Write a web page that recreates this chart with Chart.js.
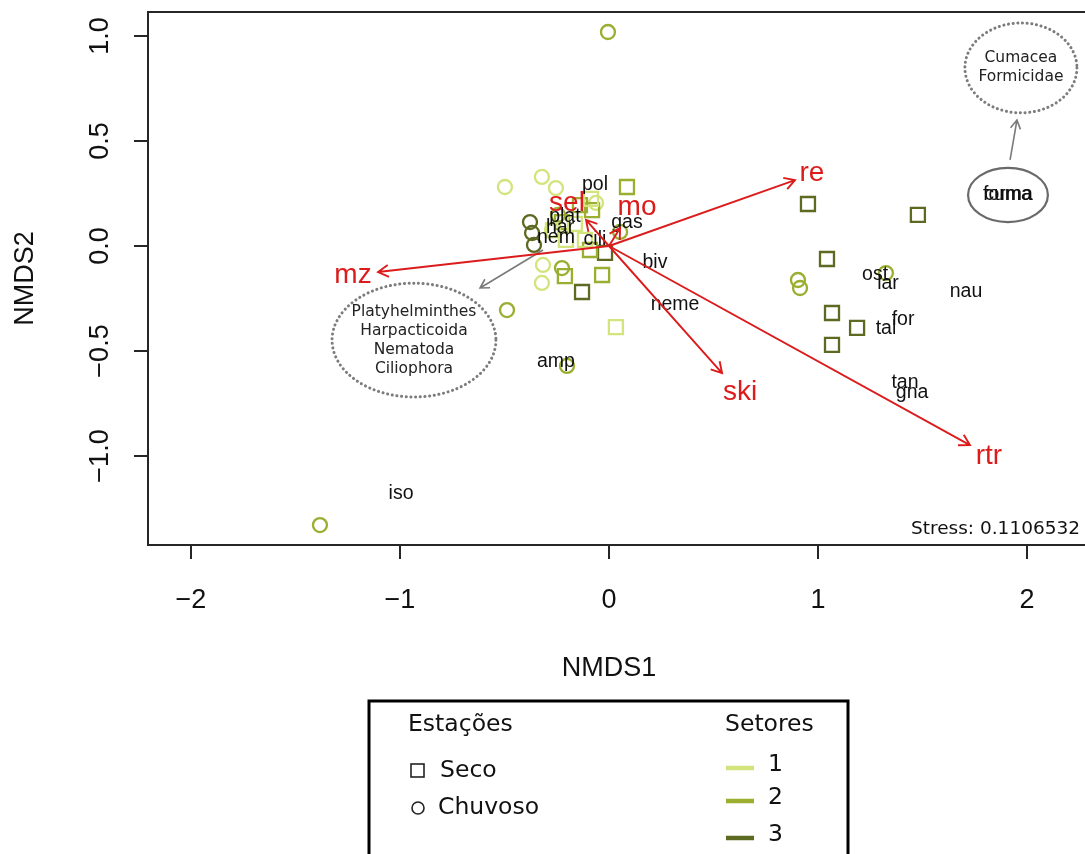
<!DOCTYPE html>
<html>
<head>
<meta charset="utf-8">
<script src="https://cdn.jsdelivr.net/npm/chart.js@4.4.1/dist/chart.umd.min.js"></script>
<style>
  html, body { margin: 0; padding: 0; background: #fff; overflow: hidden; }
  canvas { display: block; }
</style>
</head>
<body>
<canvas id="nmds" width="1085" height="854"></canvas>
<script>
// NMDS ordination of samples, taxa scores and environmental vectors

// Samples, dry season (squares)
const secoX     = [0.033, -0.086, -0.163, -0.206, -0.268, -0.115,
                   0.086, -0.081, -0.139, -0.091, -0.211, -0.033, -0.225,
                   -0.019, -0.129, 0.952, 1.478, 1.043, 1.067, 1.187, 1.067];
const secoY     = [-0.386, 0.224, 0.105, 0.029, 0.076, 0.029,
                   0.281, 0.171, 0.195, -0.019, -0.143, -0.138, 0.114,
                   -0.033, -0.219, 0.200, 0.148, -0.062, -0.319, -0.390, -0.471];
const secoSetor = [1, 1, 1, 1, 1, 1,
                   2, 2, 2, 2, 2, 2, 2,
                   3, 3, 3, 3, 3, 3, 3, 3];

// Samples, rainy season (circles)
const chuvosoX     = [-0.498, -0.321, -0.254, -0.316, -0.321, -0.273, -0.062,
                      -0.005, -0.225, -0.488, -0.201, -1.383, 0.904, 0.914, 1.325, 0.053, -0.244,
                      -0.378, -0.368, -0.359];
const chuvosoY     = [0.281, 0.329, 0.276, -0.090, -0.176, 0.076, 0.205,
                      1.019, -0.105, -0.305, -0.571, -1.329, -0.162, -0.200, -0.129, 0.067, 0.148,
                      0.114, 0.062, 0.005];
const chuvosoSetor = [1, 1, 1, 1, 1, 1, 1,
                      2, 2, 2, 2, 2, 2, 2, 2, 2, 2,
                      3, 3, 3];

// Taxa scores
const taxa  = ['pol', 'plat', 'har', 'nem', 'cili', 'gas', 'biv', 'neme', 'amp', 'iso',
               'ost', 'lar', 'nau', 'for', 'tal', 'tan', 'gna', 'forma', 'cuma'];
const taxaX = [-0.067, -0.211, -0.234, -0.254, -0.067, 0.086, 0.220, 0.316, -0.254, -0.995,
               1.273, 1.335, 1.708, 1.407, 1.325, 1.416, 1.450, 1.909, 1.909];
const taxaY = [0.290, 0.138, 0.086, 0.038, 0.029, 0.110, -0.081, -0.281, -0.552, -1.181,
               -0.138, -0.181, -0.219, -0.352, -0.395, -0.652, -0.700, 0.243, 0.243];

// Environmental vectors (arrow tips) and their label positions
const vetores = ['re', 'mz', 'ski', 'rtr', 'sel', 'mo'];
const vetorX  = [0.890, -1.105, 0.541, 1.727, -0.110, 0.053];
const vetorY  = [0.314, -0.124, -0.605, -0.948, 0.124, 0.086];
const rotuloX = [0.971, -1.225, 0.627, 1.818, -0.201, 0.134];
const rotuloY = [0.348, -0.138, -0.695, -1.000, 0.205, 0.186];

// Axis ticks
const xTicks      = [-2, -1, 0, 1, 2];
const xTickLabels = ['\u22122', '\u22121', '0', '1', '2'];
const yTicks      = [-1, -0.5, 0, 0.5, 1];
const yTickLabels = ['\u22121.0', '\u22120.5', '0.0', '0.5', '1.0'];

const setores  = ['1', '2', '3'];
const estacoes = ['Seco', 'Chuvoso'];
const stress   = '0.1106532';

// ---- styling ----
const corSetor = { 1: '#d3e47c', 2: '#9bae30', 3: '#5c6a22' };
const RED = '#dc1c1c';
const GRAY = '#7a7a7a';
const SANS = '"Liberation Sans", Arial, sans-serif';
const VERD = '"DejaVu Sans", Verdana, sans-serif';

function buildDatasets() {
  const sets = [];
  [1, 2, 3].forEach(s => {
    const pts = [];
    secoX.forEach((x, i) => { if (secoSetor[i] === s) pts.push({ x, y: secoY[i] }); });
    sets.push({
      label: 'Seco ' + s, data: pts, pointStyle: 'rect',
      pointRadius: 9.9, borderWidth: 2.3, borderColor: corSetor[s],
      backgroundColor: 'rgba(0,0,0,0)'
    });
  });
  [1, 2, 3].forEach(s => {
    const pts = [];
    chuvosoX.forEach((x, i) => { if (chuvosoSetor[i] === s) pts.push({ x, y: chuvosoY[i] }); });
    sets.push({
      label: 'Chuvoso ' + s, data: pts, pointStyle: 'circle',
      pointRadius: 7, borderWidth: 2.3, borderColor: corSetor[s],
      backgroundColor: 'rgba(0,0,0,0)'
    });
  });
  return sets;
}

function arrow(ctx, x0, y0, x1, y1, color, width, head) {
  ctx.save();
  ctx.strokeStyle = color;
  ctx.lineWidth = width;
  ctx.beginPath();
  ctx.moveTo(x0, y0);
  ctx.lineTo(x1, y1);
  const a = Math.atan2(y1 - y0, x1 - x0);
  const sp = Math.PI / 6;
  ctx.moveTo(x1 - head * Math.cos(a - sp), y1 - head * Math.sin(a - sp));
  ctx.lineTo(x1, y1);
  ctx.lineTo(x1 - head * Math.cos(a + sp), y1 - head * Math.sin(a + sp));
  ctx.stroke();
  ctx.restore();
}

// Group annotations (in data units)
const grupos = [
  { cx: -0.933, cy: -0.448, rx: 0.392, ry: 0.271, dotted: true,
    linhas: ['Platyhelminthes', 'Harpacticoida', 'Nematoda', 'Ciliophora'] },
  { cx: 1.971, cy: 0.848, rx: 0.268, ry: 0.214, dotted: true,
    linhas: ['Cumacea', 'Formicidae'] },
  { cx: 1.909, cy: 0.243, rx: 0.191, ry: 0.129, dotted: false, linhas: [] }
];
const setasCinza = [
  { x0: -0.316, y0: -0.019, x1: -0.617, y1: -0.200 },
  { x0: 1.919, y0: 0.410, x1: 1.952, y1: 0.600 }
];

const ordPlugin = {
  id: 'ordenacao',
  beforeDatasetsDraw(chart) {
    const { ctx, scales: { x, y } } = chart;
    // group ellipses and pointers
    grupos.forEach(g => {
      const px = x.getPixelForValue(g.cx), py = y.getPixelForValue(g.cy);
      const rx = Math.abs(x.getPixelForValue(g.cx + g.rx) - px);
      const ry = Math.abs(y.getPixelForValue(g.cy + g.ry) - py);
      ctx.save();
      ctx.beginPath();
      ctx.ellipse(px, py, rx, ry, 0, 0, Math.PI * 2);
      if (g.dotted) {
        ctx.setLineDash([0.1, 4.6]);
        ctx.lineCap = 'round';
        ctx.lineWidth = 3;
        ctx.strokeStyle = '#7c7c7c';
      } else {
        ctx.lineWidth = 2.2;
        ctx.strokeStyle = '#6a6a6a';
      }
      ctx.stroke();
      ctx.restore();
      ctx.save();
      ctx.fillStyle = '#222';
      ctx.font = '15.5px ' + VERD;
      ctx.textAlign = 'center';
      ctx.textBaseline = 'middle';
      const lh = 19;
      const n = g.linhas.length;
      g.linhas.forEach((t, i) => {
        ctx.fillText(t, px, py + (i - (n - 1) / 2) * lh);
      });
      ctx.restore();
    });
    setasCinza.forEach(s => {
      arrow(ctx, x.getPixelForValue(s.x0), y.getPixelForValue(s.y0),
            x.getPixelForValue(s.x1), y.getPixelForValue(s.y1), GRAY, 1.6, 10);
    });
  },
  afterDatasetsDraw(chart) {
    const { ctx, scales: { x, y } } = chart;
    // taxa labels
    ctx.save();
    ctx.fillStyle = '#111';
    ctx.font = '19.5px ' + SANS;
    ctx.textAlign = 'center';
    ctx.textBaseline = 'middle';
    taxa.forEach((t, i) => {
      ctx.fillText(t, x.getPixelForValue(taxaX[i]), y.getPixelForValue(taxaY[i]));
    });
    ctx.restore();
    // environmental vectors
    const ox = x.getPixelForValue(0), oy = y.getPixelForValue(0);
    vetores.forEach((v, i) => {
      arrow(ctx, ox, oy, x.getPixelForValue(vetorX[i]), y.getPixelForValue(vetorY[i]), RED, 1.9, 12);
    });
    ctx.save();
    ctx.fillStyle = RED;
    ctx.font = '28px ' + SANS;
    ctx.textAlign = 'center';
    ctx.textBaseline = 'middle';
    vetores.forEach((v, i) => {
      ctx.fillText(v, x.getPixelForValue(rotuloX[i]), y.getPixelForValue(rotuloY[i]));
    });
    ctx.restore();
  },
  afterDraw(chart) {
    const { ctx, chartArea: ca, scales: { x, y } } = chart;
    ctx.save();
    // plot box
    ctx.strokeStyle = '#262626';
    ctx.lineWidth = 2;
    ctx.strokeRect(ca.left, ca.top, ca.right - ca.left + 10, ca.bottom - ca.top);
    // x axis
    ctx.beginPath();
    xTicks.forEach(t => {
      const px = Math.round(x.getPixelForValue(t));
      ctx.moveTo(px, ca.bottom);
      ctx.lineTo(px, ca.bottom + 14);
    });
    ctx.stroke();
    ctx.fillStyle = '#111';
    ctx.font = '27px ' + SANS;
    ctx.textAlign = 'center';
    ctx.textBaseline = 'middle';
    xTicks.forEach((t, i) => ctx.fillText(xTickLabels[i], x.getPixelForValue(t), 601));
    ctx.fillText('NMDS1', x.getPixelForValue(0), 669);
    // y axis
    ctx.beginPath();
    yTicks.forEach(t => {
      const py = Math.round(y.getPixelForValue(t));
      ctx.moveTo(ca.left, py);
      ctx.lineTo(ca.left - 14, py);
    });
    ctx.stroke();
    yTicks.forEach((t, i) => {
      ctx.save();
      ctx.translate(101, y.getPixelForValue(t));
      ctx.rotate(-Math.PI / 2);
      ctx.fillText(yTickLabels[i], 0, 0);
      ctx.restore();
    });
    ctx.save();
    ctx.translate(26, (ca.top + ca.bottom) / 2);
    ctx.rotate(-Math.PI / 2);
    ctx.fillText('NMDS2', 0, 0);
    ctx.restore();
    // stress
    ctx.font = '18.5px ' + VERD;
    ctx.textAlign = 'right';
    ctx.fillText('Stress: ' + stress, 1080, 529);
    // legend
    ctx.strokeStyle = '#000';
    ctx.lineWidth = 3;
    ctx.strokeRect(369, 701, 479, 200);
    ctx.font = '23.5px ' + VERD;
    ctx.textAlign = 'left';
    ctx.fillStyle = '#111';
    ctx.fillText('Estações', 408, 725);
    ctx.fillText('Setores', 725, 725);
    ctx.lineWidth = 1.6;
    ctx.strokeStyle = '#222';
    ctx.strokeRect(411, 764, 13, 13);
    ctx.fillText(estacoes[0], 440, 771);
    ctx.beginPath();
    ctx.arc(418, 808, 6, 0, Math.PI * 2);
    ctx.stroke();
    ctx.fillText(estacoes[1], 438, 808);
    const ly = [768, 801, 838];
    setores.forEach((s, i) => {
      ctx.strokeStyle = corSetor[i + 1];
      ctx.lineWidth = 4.5;
      ctx.beginPath();
      ctx.moveTo(726, ly[i]);
      ctx.lineTo(754, ly[i]);
      ctx.stroke();
      ctx.fillStyle = '#111';
      ctx.fillText(s, 768, ly[i] - 3);
    });
    ctx.restore();
  }
};

new Chart(document.getElementById('nmds'), {
  type: 'scatter',
  data: { datasets: buildDatasets() },
  options: {
    responsive: false,
    animation: false,
    layout: { autoPadding: false, padding: { left: 148, top: 12, right: 0, bottom: 309 } },
    plugins: { legend: { display: false }, tooltip: { enabled: false } },
    scales: {
      x: { type: 'linear', min: -2.2057, max: 2.2775, display: false },
      y: { type: 'linear', min: -1.4238, max: 1.1143, display: false }
    }
  },
  plugins: [ordPlugin]
});
</script>
</body>
</html>
